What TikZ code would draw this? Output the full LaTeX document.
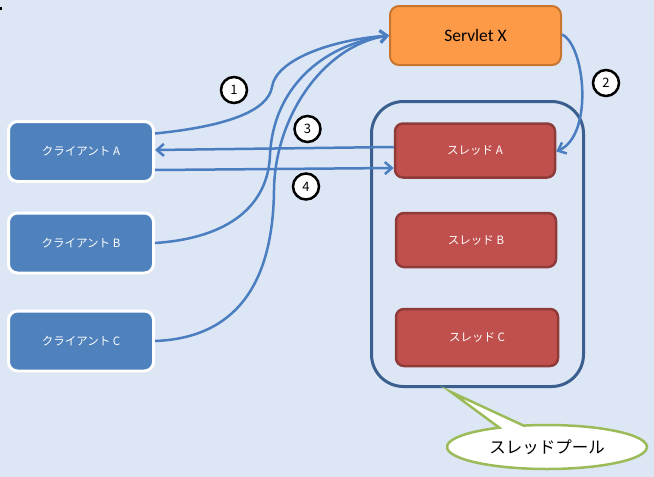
\documentclass[tikz,border=0pt]{standalone}
\usepackage{fontspec}
\newfontfamily\jpfont{Noto Sans CJK JP}
\newfontfamily\calfont{Carlito}
\usetikzlibrary{shapes.geometric,shapes.callouts,positioning,calc,arrows.meta,shadows}
\definecolor{bgblue}{HTML}{DDE6F5}
\definecolor{clientblue}{HTML}{4F81BD}
\definecolor{linkblue}{HTML}{4A7EC0}
\definecolor{servletorange}{HTML}{FD9A48}
\definecolor{servletedge}{HTML}{C8752F}
\definecolor{threadred}{HTML}{C0504D}
\definecolor{threadedge}{HTML}{8E3B39}
\definecolor{pooledge}{HTML}{3A5F8F}
\definecolor{calloutgreen}{HTML}{9BBB59}
\tikzset{
  client/.style={draw=white, line width=3pt, fill=clientblue, rounded corners=9pt,
    minimum width=145pt, minimum height=60pt, inner sep=0pt, text=white,
    font=\jpfont\fontsize{11.5}{13}\selectfont,
    drop shadow={shadow xshift=1pt, shadow yshift=-1.5pt, opacity=0.3}},
  thread/.style={draw=threadedge, line width=2.5pt, fill=threadred, rounded corners=8pt,
    minimum width=160pt, minimum height=54pt, inner sep=0pt, text=white,
    font=\jpfont\fontsize{11.5}{13}\selectfont},
  servletbox/.style={draw=servletedge, line width=2pt, fill=servletorange, rounded corners=9pt,
    minimum width=171pt, minimum height=59pt, inner sep=0pt,
    font=\calfont\fontsize{17.5}{19}\selectfont},
  num/.style={circle, draw=black, line width=2.5pt, fill=white, minimum size=26pt,
    inner sep=0pt, font=\jpfont\fontsize{13}{15}\selectfont},
  link/.style={draw=linkblue, line width=2.5pt},
  arrowhd/.style={-{Straight Barb[length=7pt,width=12pt]}}
}

\begin{document}
\begin{tikzpicture}[x=1pt,y=-1pt]
    \useasboundingbox[fill=bgblue] (0,0) rectangle (654,477);
    \fill (0,7) rectangle (2,10);

    % clients
    \node[client] (clientA) at (81,151.5) {クライアント A};
    \node[client] (clientB) at (81,243) {クライアント B};
    \node[client] (clientC) at (81,341) {クライアント C};

    \node[servletbox] (servlet) at (475.5,35.5) {Servlet X};

    % thread pool
    \node[draw=pooledge, line width=3pt, rounded corners=32pt, minimum width=212pt,
      minimum height=285pt] (pool) at (477.5,244) {};
    \node[thread] (threadA) at (475,150.5) {スレッド A};
    \node[thread] (threadB) at (476,240) {スレッド B};
    \node[thread, minimum width=162pt, minimum height=57pt] (threadC) at (477,337.5) {スレッド C};

    \coordinate (calloutTip) at (451,392);
    \node[ellipse callout, draw=calloutgreen, line width=2.5pt, fill=white,
      minimum width=200pt, minimum height=44pt, inner sep=0pt,
      callout absolute pointer={(calloutTip)},
      font=\jpfont\fontsize{16.5}{18}\selectfont] (poolLabel) at (547,447) {スレッドプール};

    % requests
    \draw[link,arrowhd] ([yshift=18pt]clientA.east) .. controls (230,126) and (268,110) .. (272,87)
      .. controls (276,60) and (330,40) .. (servlet.west);
    \draw[link,arrowhd] (clientB.east) .. controls (230,238) and (268,205) .. (270,155)
      .. controls (273,90) and (320,45) .. (servlet.west);
    \draw[link,arrowhd] (clientC.east) .. controls (235,338) and (273,285) .. (274,190)
      .. controls (275,115) and (325,45) .. (servlet.west);
    \draw[link,arrowhd] ([yshift=1pt]servlet.east) .. controls (585,45) and (594,135)
      .. ([yshift=-1pt]threadA.east);
    \draw[link,arrowhd] ([yshift=3.5pt]threadA.west) -- ([yshift=1.5pt]clientA.east);
    \draw[link,arrowhd] ([yshift=-18.5pt]clientA.east) -- ([yshift=-17.5pt]threadA.west);

    % step numbers
    \node[num] (n1) at (234,90) {1};
    \node[num] (n2) at (606,83) {2};
    \node[num] (n3) at (307.5,129) {3};
    \node[num] (n4) at (306,186.5) {4};
\end{tikzpicture}
\end{document}
